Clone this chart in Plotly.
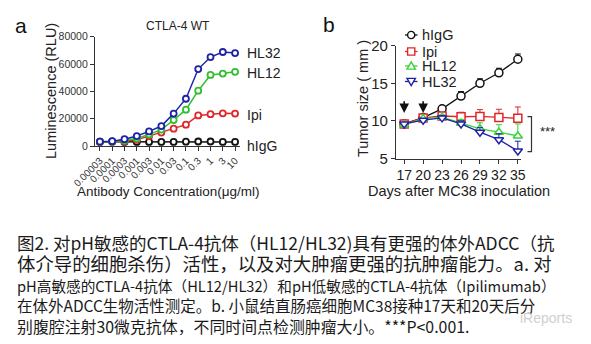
import plotly.graph_objects as go

W, H = 591, 344
ML, MR, MT, MB = 60, 20, 20, 20  # plotting-area margins (pixels)

# ---------------- data ----------------
conc_labels = ["0.00003", "0.0001", "0.0003", "0.001", "0.003", "0.01",
               "0.03", "0.1", "0.3", "1", "3", "10"]
lum_ticks = [0, 20000, 40000, 60000, 80000]
lum_tick_text = ["0", "20000", "40000", "60000", "80000"]
lum_hl32 = [3200, 3500, 5000, 7300, 10700, 14600, 23700, 34600, 56300, 65100, 68800, 68000]
lum_hl12 = [3200, 3300, 4000, 5500, 8500, 12000, 19000, 26600, 40500, 52000, 53000, 54300]
lum_ipi = [3000, 3200, 3500, 4500, 7200, 9800, 12700, 15600, 22400, 23300, 23900, 23700]
lum_higg = [3200, 3200, 3000, 3000, 3000, 3000, 3000, 3200, 3300, 3300, 3000, 3000]

days = [17, 20, 23, 26, 29, 32, 35]
tum_ticks = [5, 10, 15, 20]
tum_higg = [9.6, 10.45, 11.6, 13.3, 15.0, 16.4, 18.2]
tum_higg_err = [0.15, 0.2, 0.45, 0.6, 0.6, 0.6, 0.7]
tum_ipi = [9.6, 10.4, 10.65, 10.55, 10.6, 10.45, 10.35]
tum_ipi_err = [0.15, 0.2, 0.3, 0.6, 0.9, 1.1, 1.5]
tum_hl12 = [9.5, 10.3, 10.5, 9.7, 8.95, 8.5, 8.0]
tum_hl12_err = [0.15, 0.2, 0.3, 0.5, 0.8, 1.0, 1.6]
tum_hl32 = [9.6, 10.1, 10.4, 9.6, 8.5, 7.5, 6.0]
tum_hl32_err = [0.15, 0.2, 0.3, 0.4, 0.6, 0.8, 1.3]

caption_lines = [
    "图2. 对pH敏感的CTLA-4抗体（HL12/HL32)具有更强的体外ADCC（抗",
    "体介导的细胞杀伤）活性，以及对大肿瘤更强的抗肿瘤能力。a. 对",
    "pH高敏感的CTLA-4抗体（HL12/HL32）和pH低敏感的CTLA-4抗体（Ipilimumab）",
    "在体外ADCC生物活性测定。b. 小鼠结直肠癌细胞MC38接种17天和20天后分",
    "别腹腔注射30微克抗体，不同时间点检测肿瘤大小。***P<0.001.",
]
caption_sizes = [17.5, 18.4, 14.65, 15.5, 15.9]
caption_y = [242, 263, 285, 305, 326]

BLUE = "#1f22a8"
GREEN = "#2fbf2f"
RED = "#e0262b"
BLACK = "#111111"
B_GREEN = "#37d437"

FONT = "Liberation Sans, Arial, sans-serif"
CJK = "Noto Sans CJK SC"

PW, PH = W - ML - MR, H - MT - MB


def px(x):
    return (x - ML) / PW


def py(y):
    return 1 - (y - MT) / PH


fig = go.Figure()

# ---------------- panel a ----------------
for name, vals, col in [("hIgG", lum_higg, BLACK), ("Ipi", lum_ipi, RED),
                        ("HL12", lum_hl12, GREEN), ("HL32", lum_hl32, BLUE)]:
    fig.add_trace(go.Scatter(
        x=conc_labels, y=vals, mode="lines+markers", xaxis="x", yaxis="y",
        line=dict(color=col, width=1.5),
        marker=dict(symbol="circle", size=6, color="white", line=dict(width=1.8, color=col)),
        showlegend=False, cliponaxis=False))

# ---------------- panel b ----------------
b_styles = [("hIgG", tum_higg, tum_higg_err, BLACK, "circle"),
            ("Ipi", tum_ipi, tum_ipi_err, RED, "square"),
            ("HL12", tum_hl12, tum_hl12_err, B_GREEN, "triangle-up"),
            ("HL32", tum_hl32, tum_hl32_err, BLUE, "triangle-down")]
for name, vals, err, col, sym in b_styles:
    fig.add_trace(go.Scatter(
        x=days, y=vals, mode="lines+markers", xaxis="x2", yaxis="y2", name=name,
        line=dict(color=col, width=1.3),
        marker=dict(symbol=sym, size=8, color="white", line=dict(width=1.5, color=col)),
        error_y=dict(type="data", array=err, arrayminus=[0] * len(err), symmetric=False,
                     color=col, thickness=1, width=3),
        showlegend=False, cliponaxis=False))

axis_common = dict(showgrid=False, zeroline=False, showline=True, linecolor="#333",
                   linewidth=1.3, ticks="outside", tickcolor="#333", ticklen=4,
                   tickwidth=1.2, automargin=False, ticklabeloverflow="allow",
                   showticklabels=True)

fig.update_layout(
    template="none",
    width=W, height=H, margin=dict(l=ML, r=MR, t=MT, b=MB, autoexpand=False),
    paper_bgcolor="white", plot_bgcolor="white",
    font=dict(family=FONT, color="#222"),
    showlegend=False,
    xaxis=dict(domain=[px(95), px(240)], type="category", range=[-0.4, 11.4],
               tickmode="array", tickvals=conc_labels, ticktext=conc_labels,
               tickangle=-45, tickfont=dict(size=10, color="#333"), anchor="y",
               **axis_common),
    yaxis=dict(domain=[py(146), py(36.7)], range=[0, 80000], tickmode="array",
               tickvals=lum_ticks, ticktext=lum_tick_text, side="left",
               tickfont=dict(size=10.5, color="#333"), anchor="x",
               **axis_common),
    xaxis2=dict(domain=[px(396), px(521)], range=[15.7, 35.5], tickmode="array", tickvals=days,
                tickfont=dict(size=14, color="#222"), anchor="y2", **axis_common),
    yaxis2=dict(domain=[py(158.5), py(45.7)], range=[5, 20], tickmode="array", tickvals=tum_ticks,
                tickfont=dict(size=15, color="#222"), anchor="x2", **axis_common),
)

ann = []
# panel letters
ann.append(dict(text="a", x=px(21), y=py(25), font=dict(size=21, color="#111")))
ann.append(dict(text="b", x=px(329), y=py(24), font=dict(size=21, color="#111")))
# panel a texts
ann.append(dict(text="CTLA-4 WT", x=px(178), y=py(26), font=dict(size=12)))
ann.append(dict(text="Luminescence (RLU)", x=px(51), y=py(91), textangle=-90, font=dict(size=14.5)))
ann.append(dict(text="Antibody Concentration(μg/ml)", x=px(168), y=py(191), font=dict(size=13.5)))
for t, yy in [("HL32", 53), ("HL12", 73), ("Ipi", 115), ("hIgG", 146)]:
    ann.append(dict(text=t, x=px(245), y=py(yy), xanchor="left", font=dict(size=14)))
# panel b texts
ann.append(dict(text="Tumor size ( mm )", x=px(363), y=py(99), textangle=-90, font=dict(size=14.5)))
ann.append(dict(text="Days after MC38 inoculation", x=px(459), y=py(191), font=dict(size=14.5)))
ann.append(dict(text="***", x=px(547), y=py(131), font=dict(size=13)))
# caption
for t, s, yy in zip(caption_lines, caption_sizes, caption_y):
    ann.append(dict(text=t, x=px(15), y=py(yy), xanchor="left", font=dict(family=CJK, size=s, color="#1a1a1a")))
# watermark
ann.append(dict(text="iReports", x=px(546), y=py(318), font=dict(size=14, color="#cfcfcf")))

# legend for panel b (drawn as keys + text)
leg_rows = [35, 51.5, 66, 81.5]
shapes = []
for (name, _, _, col, sym), yy in zip(b_styles, leg_rows):
    ann.append(dict(text=name, x=px(420), y=py(yy), xanchor="left", font=dict(size=14.5)))
    shapes.append(dict(type="line", x0=px(405), x1=px(417.5), y0=py(yy), y1=py(yy),
                       line=dict(color=col, width=1.3)))
    cx, cy, r = 411.2, yy, 3.6
    if sym == "circle":
        shapes.append(dict(type="circle", x0=px(cx - r), x1=px(cx + r), y0=py(cy - r), y1=py(cy + r),
                           line=dict(color=col, width=1.4), fillcolor="white"))
    elif sym == "square":
        shapes.append(dict(type="rect", x0=px(cx - r), x1=px(cx + r), y0=py(cy - r), y1=py(cy + r),
                           line=dict(color=col, width=1.4), fillcolor="white"))
    elif sym == "triangle-up":
        shapes.append(dict(type="path", path=f"M {px(cx - r - 0.6)} {py(cy + r - 0.5)} L {px(cx + r + 0.6)} {py(cy + r - 0.5)} L {px(cx)} {py(cy - r - 0.5)} Z",
                           line=dict(color=col, width=1.4), fillcolor="white"))
    else:
        shapes.append(dict(type="path", path=f"M {px(cx - r - 0.6)} {py(cy - r + 0.5)} L {px(cx + r + 0.6)} {py(cy - r + 0.5)} L {px(cx)} {py(cy + r + 0.5)} Z",
                           line=dict(color=col, width=1.4), fillcolor="white"))

for a in ann:
    a.setdefault("xref", "paper")
    a.setdefault("yref", "paper")
    a.setdefault("showarrow", False)
    a.setdefault("xanchor", "center")
    a.setdefault("yanchor", "middle")

# treatment arrows (day 17 and 20)
for d in [17, 20]:
    ann.append(dict(x=d, y=11.05, ax=d, ay=12.8, xref="x2", yref="y2", axref="x2", ayref="y2",
                    showarrow=True, arrowhead=2, arrowsize=1.2, arrowwidth=1.6, arrowcolor="#111", text=""))

# significance bracket
shapes.append(dict(type="path", xref="paper", yref="paper",
                   path=f"M {px(527.5)} {py(116.7)} L {px(531.5)} {py(116.7)} L {px(531.5)} {py(151.7)} L {px(527.5)} {py(151.7)}",
                   line=dict(color="#333", width=1.2)))
for s in shapes:
    s.setdefault("xref", "paper")
    s.setdefault("yref", "paper")

fig.update_layout(annotations=ann, shapes=shapes)

fig.write_html("out.html")
